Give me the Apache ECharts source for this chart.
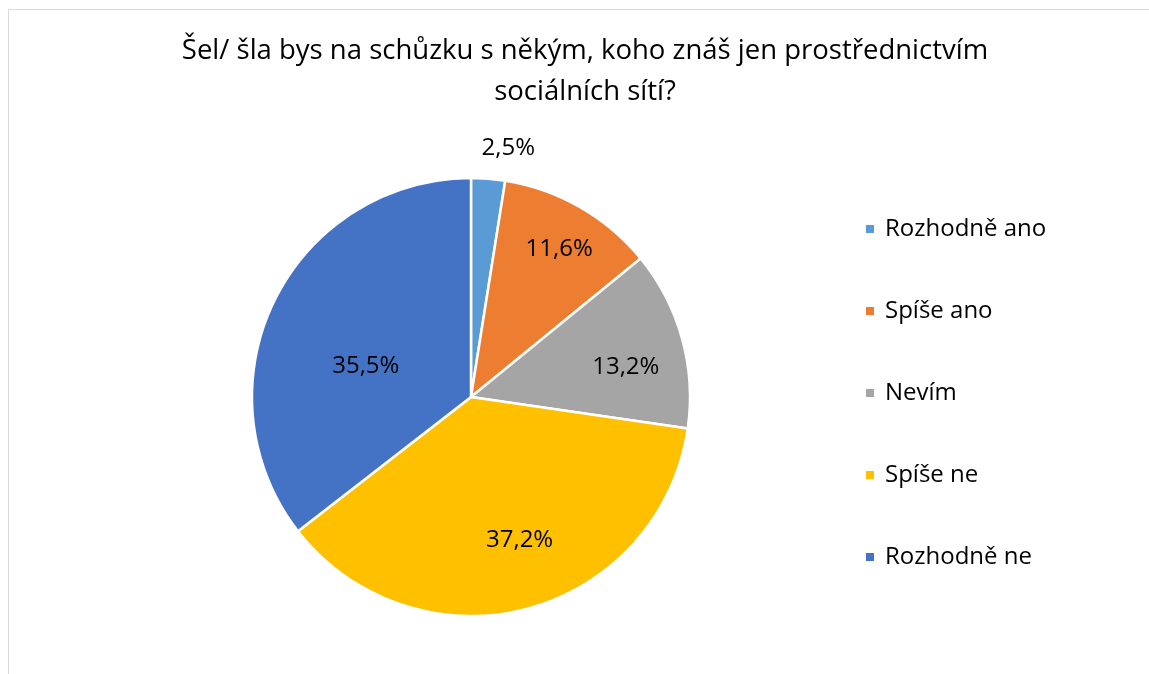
<!DOCTYPE html>
<html>
<head>
<meta charset="utf-8">
<script src="https://cdn.jsdelivr.net/npm/echarts@6/dist/echarts.min.js"></script>
<style>
  html, body { margin: 0; padding: 0; background: #fff; }
  #chart { width: 1149px; height: 674px; }
</style>
</head>
<body>
<div id="chart"></div>
<script>
// kategorie a hodnoty (%)
const categories = ['Rozhodně ano', 'Spíše ano', 'Nevím', 'Spíše ne', 'Rozhodně ne']
const values = [2.5, 11.6, 13.2, 37.2, 35.5]
const colors = ['#5B9BD5', '#ED7D31', '#A5A5A5', '#FFC000', '#4472C4']

// rozložení
const cx = 471
const cy = 397
const R = 219
// umístění popisků: vzdálenost (násobek poloměru) a posun úhlu (stupně)
const labelDist = [1.15, 0.785, 0.72, 0.69, 0.5]
const labelTurn = [4, 1, 4.5, -4, -10]

const fontFamily = '"Open Sans", "Noto Sans", sans-serif'

const total = values.reduce((a, b) => a + b, 0)
const midAngles = []
let acc = 0
values.forEach(v => {
  midAngles.push((acc + v / 2) / total * Math.PI * 2)
  acc += v
})

const chart = echarts.init(document.getElementById('chart'))

const option = {
  backgroundColor: '#fff',
  animation: false,
  title: {
    text: 'Šel/ šla bys na schůzku s někým, koho znáš jen prostřednictvím\nsociálních sítí?',
    left: 580,
    top: 26,
    textAlign: 'center',
    textStyle: {
      fontFamily,
      fontSize: 27.5,
      fontWeight: 'normal',
      color: '#000',
      lineHeight: 41
    }
  },
  graphic: [{
    type: 'rect',
    shape: { x: 8.5, y: 9.5, width: 1300, height: 800 },
    style: { fill: 'none', stroke: '#d9d9d9', lineWidth: 1 },
    silent: true
  }],
  legend: {
    orient: 'vertical',
    left: 864,
    top: 217,
    padding: 0,
    itemWidth: 10,
    itemHeight: 10,
    itemGap: 58,
    icon: 'rect',
    textStyle: {
      fontFamily,
      fontSize: 24,
      color: '#000',
      lineHeight: 24,
      padding: [0, 0, 0, 5]
    },
    data: categories
  },
  series: [{
    type: 'pie',
    center: [cx, cy],
    radius: [0, R],
    startAngle: 90,
    clockwise: true,
    avoidLabelOverlap: false,
    itemStyle: { borderColor: '#fff', borderWidth: 2.5 },
    label: {
      show: true,
      position: 'outside',
      formatter: p => p.value.toFixed(1).replace('.', ',') + '%',
      fontFamily,
      fontSize: 24,
      color: '#000'
    },
    labelLine: { show: false },
    labelLayout: p => {
      const a = midAngles[p.dataIndex] + labelTurn[p.dataIndex] * Math.PI / 180
      const d = labelDist[p.dataIndex] * R
      return {
        x: cx + d * Math.sin(a),
        y: cy - d * Math.cos(a),
        align: 'center',
        verticalAlign: 'middle'
      }
    },
    data: categories.map((name, i) => ({
      name,
      value: values[i],
      itemStyle: { color: colors[i] }
    }))
  }]
}

chart.setOption(option)
</script>
</body>
</html>
